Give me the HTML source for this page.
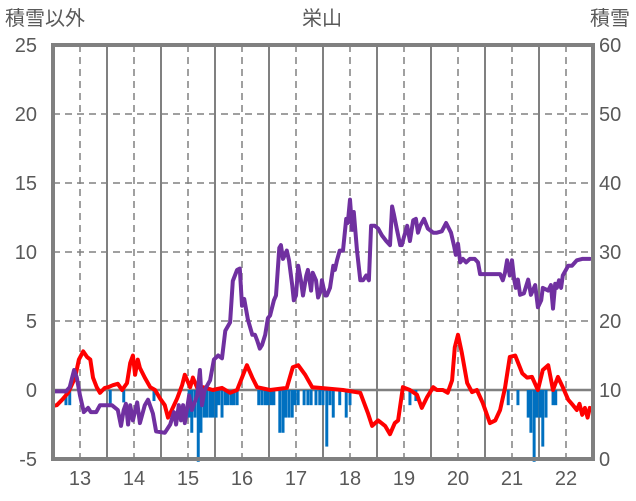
<!DOCTYPE html>
<html><head><meta charset="utf-8">
<style>
html,body{margin:0;padding:0;background:#fff;}
svg{display:block;font-family:"Liberation Sans","Noto Sans CJK JP",sans-serif;}
</style></head>
<body>
<svg id="chart" width="636" height="501" viewBox="0 0 636 501" xmlns="http://www.w3.org/2000/svg">
<text x="322" y="25" font-size="20" fill="#595959" text-anchor="middle" font-family="Liberation Sans, Noto Sans CJK JP, sans-serif">栄山</text>
<text x="5" y="25" font-size="20" fill="#595959" font-family="Liberation Sans, Noto Sans CJK JP, sans-serif">積雪以外</text>
<text x="630" y="25" font-size="20" fill="#595959" text-anchor="end" font-family="Liberation Sans, Noto Sans CJK JP, sans-serif">積雪</text>
<g id="grid"></g><g id="bars"></g><g id="lines"></g><g id="frame"></g><g id="labels"></g>
</svg>
<script>
const xTicks=[13,14,15,16,17,18,19,20,21,22];
const leftTicks=[-5,0,5,10,15,20,25];
const rightTicks=[0,10,20,30,40,50,60];
const purpleX=[12.5,12.74,12.81,12.89,12.94,13.0,13.07,13.15,13.2,13.3,13.37,13.59,13.7,13.76,13.81,13.85,13.89,13.93,13.98,14.06,14.11,14.2,14.26,14.35,14.41,14.57,14.67,14.74,14.78,14.83,14.87,14.91,14.94,15.02,15.07,15.17,15.22,15.26,15.31,15.41,15.48,15.56,15.63,15.69,15.78,15.83,15.91,15.96,16.0,16.04,16.11,16.19,16.24,16.28,16.33,16.37,16.43,16.48,16.52,16.59,16.63,16.69,16.72,16.76,16.83,16.87,16.93,16.96,17.0,17.04,17.09,17.13,17.19,17.22,17.28,17.31,17.37,17.41,17.46,17.48,17.54,17.57,17.63,17.69,17.72,17.76,17.81,17.87,17.93,17.96,18.0,18.04,18.07,18.13,18.19,18.24,18.3,18.35,18.39,18.46,18.52,18.59,18.67,18.74,18.78,18.81,18.87,18.93,18.96,19.0,19.06,19.11,19.17,19.22,19.26,19.3,19.37,19.44,19.54,19.61,19.7,19.78,19.87,19.93,19.96,20.0,20.04,20.09,20.15,20.22,20.31,20.37,20.41,20.78,20.83,20.87,20.91,20.96,21.0,21.04,21.07,21.11,21.15,21.22,21.3,21.35,21.43,21.48,21.54,21.57,21.67,21.72,21.76,21.8,21.83,21.87,21.91,21.94,22.04,22.11,22.2,22.3,22.44];
const purpleY=[-0.1,-0.1,0.2,1.45,0.9,-0.4,-1.6,-1.3,-1.6,-1.6,-1.1,-1.1,-1.45,-2.6,-1.45,-1.0,-2.5,-1.1,-2.2,-0.9,-2.4,-1.1,-0.7,-1.7,-3.0,-3.1,-2.5,-1.6,-2.5,-1.1,-2.2,-1.1,-2.4,-0.4,-1.45,-0.4,1.45,-1.1,0.0,0.7,2.2,2.5,2.3,4.3,4.9,7.9,8.7,8.8,6.1,6.6,5.1,4.0,4.0,3.6,3.0,3.25,4.0,5.2,5.4,6.5,6.85,10.3,10.5,9.5,10.1,9.4,7.6,6.5,6.85,9.0,7.95,6.85,8.3,8.7,7.2,8.5,7.95,6.7,7.2,7.95,6.85,6.85,7.4,9.0,8.7,9.4,10.1,10.1,12.4,12.1,13.8,11.6,12.9,10.1,7.95,7.95,8.3,7.95,11.9,11.9,11.7,11.2,10.8,10.5,13.3,12.8,11.6,10.5,10.5,11.1,11.9,10.8,12.3,12.4,11.4,11.9,12.4,11.7,11.4,11.4,11.5,12.1,11.4,10.4,9.8,10.6,9.25,9.5,9.25,9.5,9.5,9.25,8.4,8.4,7.95,8.5,9.4,8.3,9.4,8.0,7.4,8.0,6.9,7.0,8.0,6.9,7.6,6.0,6.5,7.4,7.2,7.6,5.9,7.7,7.4,7.95,7.4,8.3,9.0,9.0,9.4,9.5,9.5];
const redX=[12.5,12.57,12.67,12.78,12.91,12.98,13.06,13.13,13.19,13.24,13.31,13.37,13.46,13.52,13.61,13.7,13.78,13.87,13.93,13.98,14.02,14.07,14.11,14.2,14.3,14.39,14.48,14.57,14.63,14.7,14.8,14.89,14.94,15.04,15.09,15.17,15.28,15.46,15.63,15.78,15.91,16.0,16.09,16.19,16.28,16.52,16.83,16.94,17.04,17.17,17.3,17.44,17.87,18.19,18.33,18.41,18.52,18.65,18.74,18.83,18.89,18.98,19.11,19.24,19.33,19.43,19.54,19.61,19.72,19.81,19.89,19.94,20.0,20.07,20.17,20.26,20.35,20.46,20.59,20.69,20.78,20.87,20.96,21.06,21.19,21.28,21.37,21.48,21.57,21.67,21.76,21.85,21.94,22.04,22.13,22.2,22.25,22.3,22.35,22.4,22.44];
const redY=[-1.15,-1.1,-0.7,-0.2,0.9,2.2,2.8,2.4,2.2,0.9,0.2,-0.2,0.15,0.2,0.35,0.45,0.0,0.5,1.95,2.5,1.1,2.2,1.6,0.9,0.2,0.0,-0.6,-1.1,-2.0,-1.45,-0.6,0.35,1.1,0.2,0.9,0.15,0.2,0.0,0.15,-0.2,0.0,0.9,1.8,0.9,0.2,0.0,0.15,1.65,1.8,1.1,0.2,0.15,0.0,-0.2,-1.65,-2.6,-2.2,-2.6,-3.2,-2.4,-2.2,0.2,0.0,-0.35,-1.3,-0.5,0.2,0.0,0.0,-0.2,0.7,3.1,4.0,2.7,0.5,-0.15,0.0,-0.95,-2.4,-2.2,-1.45,0.15,2.4,2.5,1.2,0.9,0.95,0.0,1.45,1.8,0.0,0.95,0.2,-0.7,-1.1,-1.45,-1.0,-1.8,-1.3,-2.0,-1.3];
const barX=[12.74,12.81,13.56,13.81,14.37,15.02,15.07,15.13,15.19,15.24,15.3,15.35,15.41,15.46,15.52,15.57,15.63,15.69,15.74,15.8,15.85,15.91,16.31,16.37,16.43,16.48,16.54,16.59,16.7,16.76,16.81,16.87,16.93,16.98,17.04,17.15,17.22,17.28,17.37,17.44,17.5,17.57,17.63,17.69,17.81,17.93,18.0,19.11,19.22,20.93,21.11,21.3,21.35,21.41,21.46,21.52,21.57,21.63,21.76,21.81];
const barY=[-1.1,-1.1,-1.1,-0.9,-0.8,-2.0,-3.1,-2.0,-5.2,-3.1,-2.0,-2.0,-2.0,-2.0,-2.0,-1.1,-2.0,-1.1,-1.1,-1.1,-1.1,-1.1,-1.1,-1.1,-1.1,-1.1,-1.1,-1.1,-3.1,-3.1,-2.0,-2.0,-2.0,-1.1,-1.1,-1.1,-1.1,-1.1,-1.1,-1.1,-1.1,-4.1,-1.1,-2.0,-1.1,-2.0,-1.1,-1.1,-0.8,-1.1,-1.1,-2.0,-3.1,-5.2,-2.0,-2.0,-4.1,-2.0,-1.1,-1.1];

const NS="http://www.w3.org/2000/svg";
const L=53,R=593,T=45,B=459;
const xS=v=>L+(v-12.5)*(R-L)/10;
const yL=v=>B-(v+5)*(B-T)/30;
const yR=v=>B-v*(B-T)/60;
function mk(tag,attrs,parent){const e=document.createElementNS(NS,tag);for(const k in attrs)e.setAttribute(k,attrs[k]);parent.appendChild(e);return e;}
const grid=document.getElementById('grid'),bars=document.getElementById('bars'),lines=document.getElementById('lines'),frame=document.getElementById('frame'),labels=document.getElementById('labels');
leftTicks.forEach(t=>{
  if(t===-5||t===25)return;
  const g=mk('line',{x1:L,x2:R,y1:yL(t),y2:yL(t),stroke:'#808080','stroke-width':t===0?2.5:1.5,'stroke-dasharray':t===0?'none':'7,5'},grid);
  
  
});
xTicks.forEach(t=>{
  const g=mk('line',{x1:xS(t),x2:xS(t),y1:T,y2:B,stroke:'#808080','stroke-width':1.5,'stroke-dasharray':'7,5'},grid);
  
  
  if(t<22){
    const s=mk('line',{x1:xS(t+0.5),x2:xS(t+0.5),y1:T,y2:B,stroke:'#808080','stroke-width':2},grid);
    
    
  }
  const lb=mk('text',{x:xS(t),y:485,'font-size':20,fill:'#595959','text-anchor':'middle'},labels);
  lb.textContent=t;
  
  
});
leftTicks.forEach(t=>{
  const lb=mk('text',{x:37,y:yL(t)+7,'font-size':20,fill:'#595959','text-anchor':'end'},labels);
  lb.textContent=t;
  
  
});
rightTicks.forEach(t=>{
  const lb=mk('text',{x:599,y:yR(t)+7,'font-size':20,fill:'#595959'},labels);
  lb.textContent=t;
  
  
});
const bw=(R-L)*0.055/10;
barX.forEach((x,i)=>{
  const y0=yL(0),y1=yL(barY[i]);
  const b=mk('rect',{x:xS(x)-bw/2,y:Math.min(y0,y1),width:bw,height:Math.abs(y1-y0),fill:'#0070C0'},bars);
  
  
});
function path(xs,ys,color,name){
  const d=xs.map((x,i)=>(i?'L':'M')+xS(x).toFixed(1)+','+yL(ys[i]).toFixed(1)).join(' ');
  const p=mk('path',{d:d,fill:'none',stroke:color,'stroke-width':4,'stroke-linejoin':'round','stroke-linecap':'round'},lines);
  
  
}
path(redX,redY,'#FF0000','red-series-line');
path(purpleX,purpleY,'#7030A0','purple-series-line');
const fr=mk('rect',{x:L,y:T,width:R-L,height:B-T,fill:'none',stroke:'#808080','stroke-width':4},frame);


</script>
</body></html>
